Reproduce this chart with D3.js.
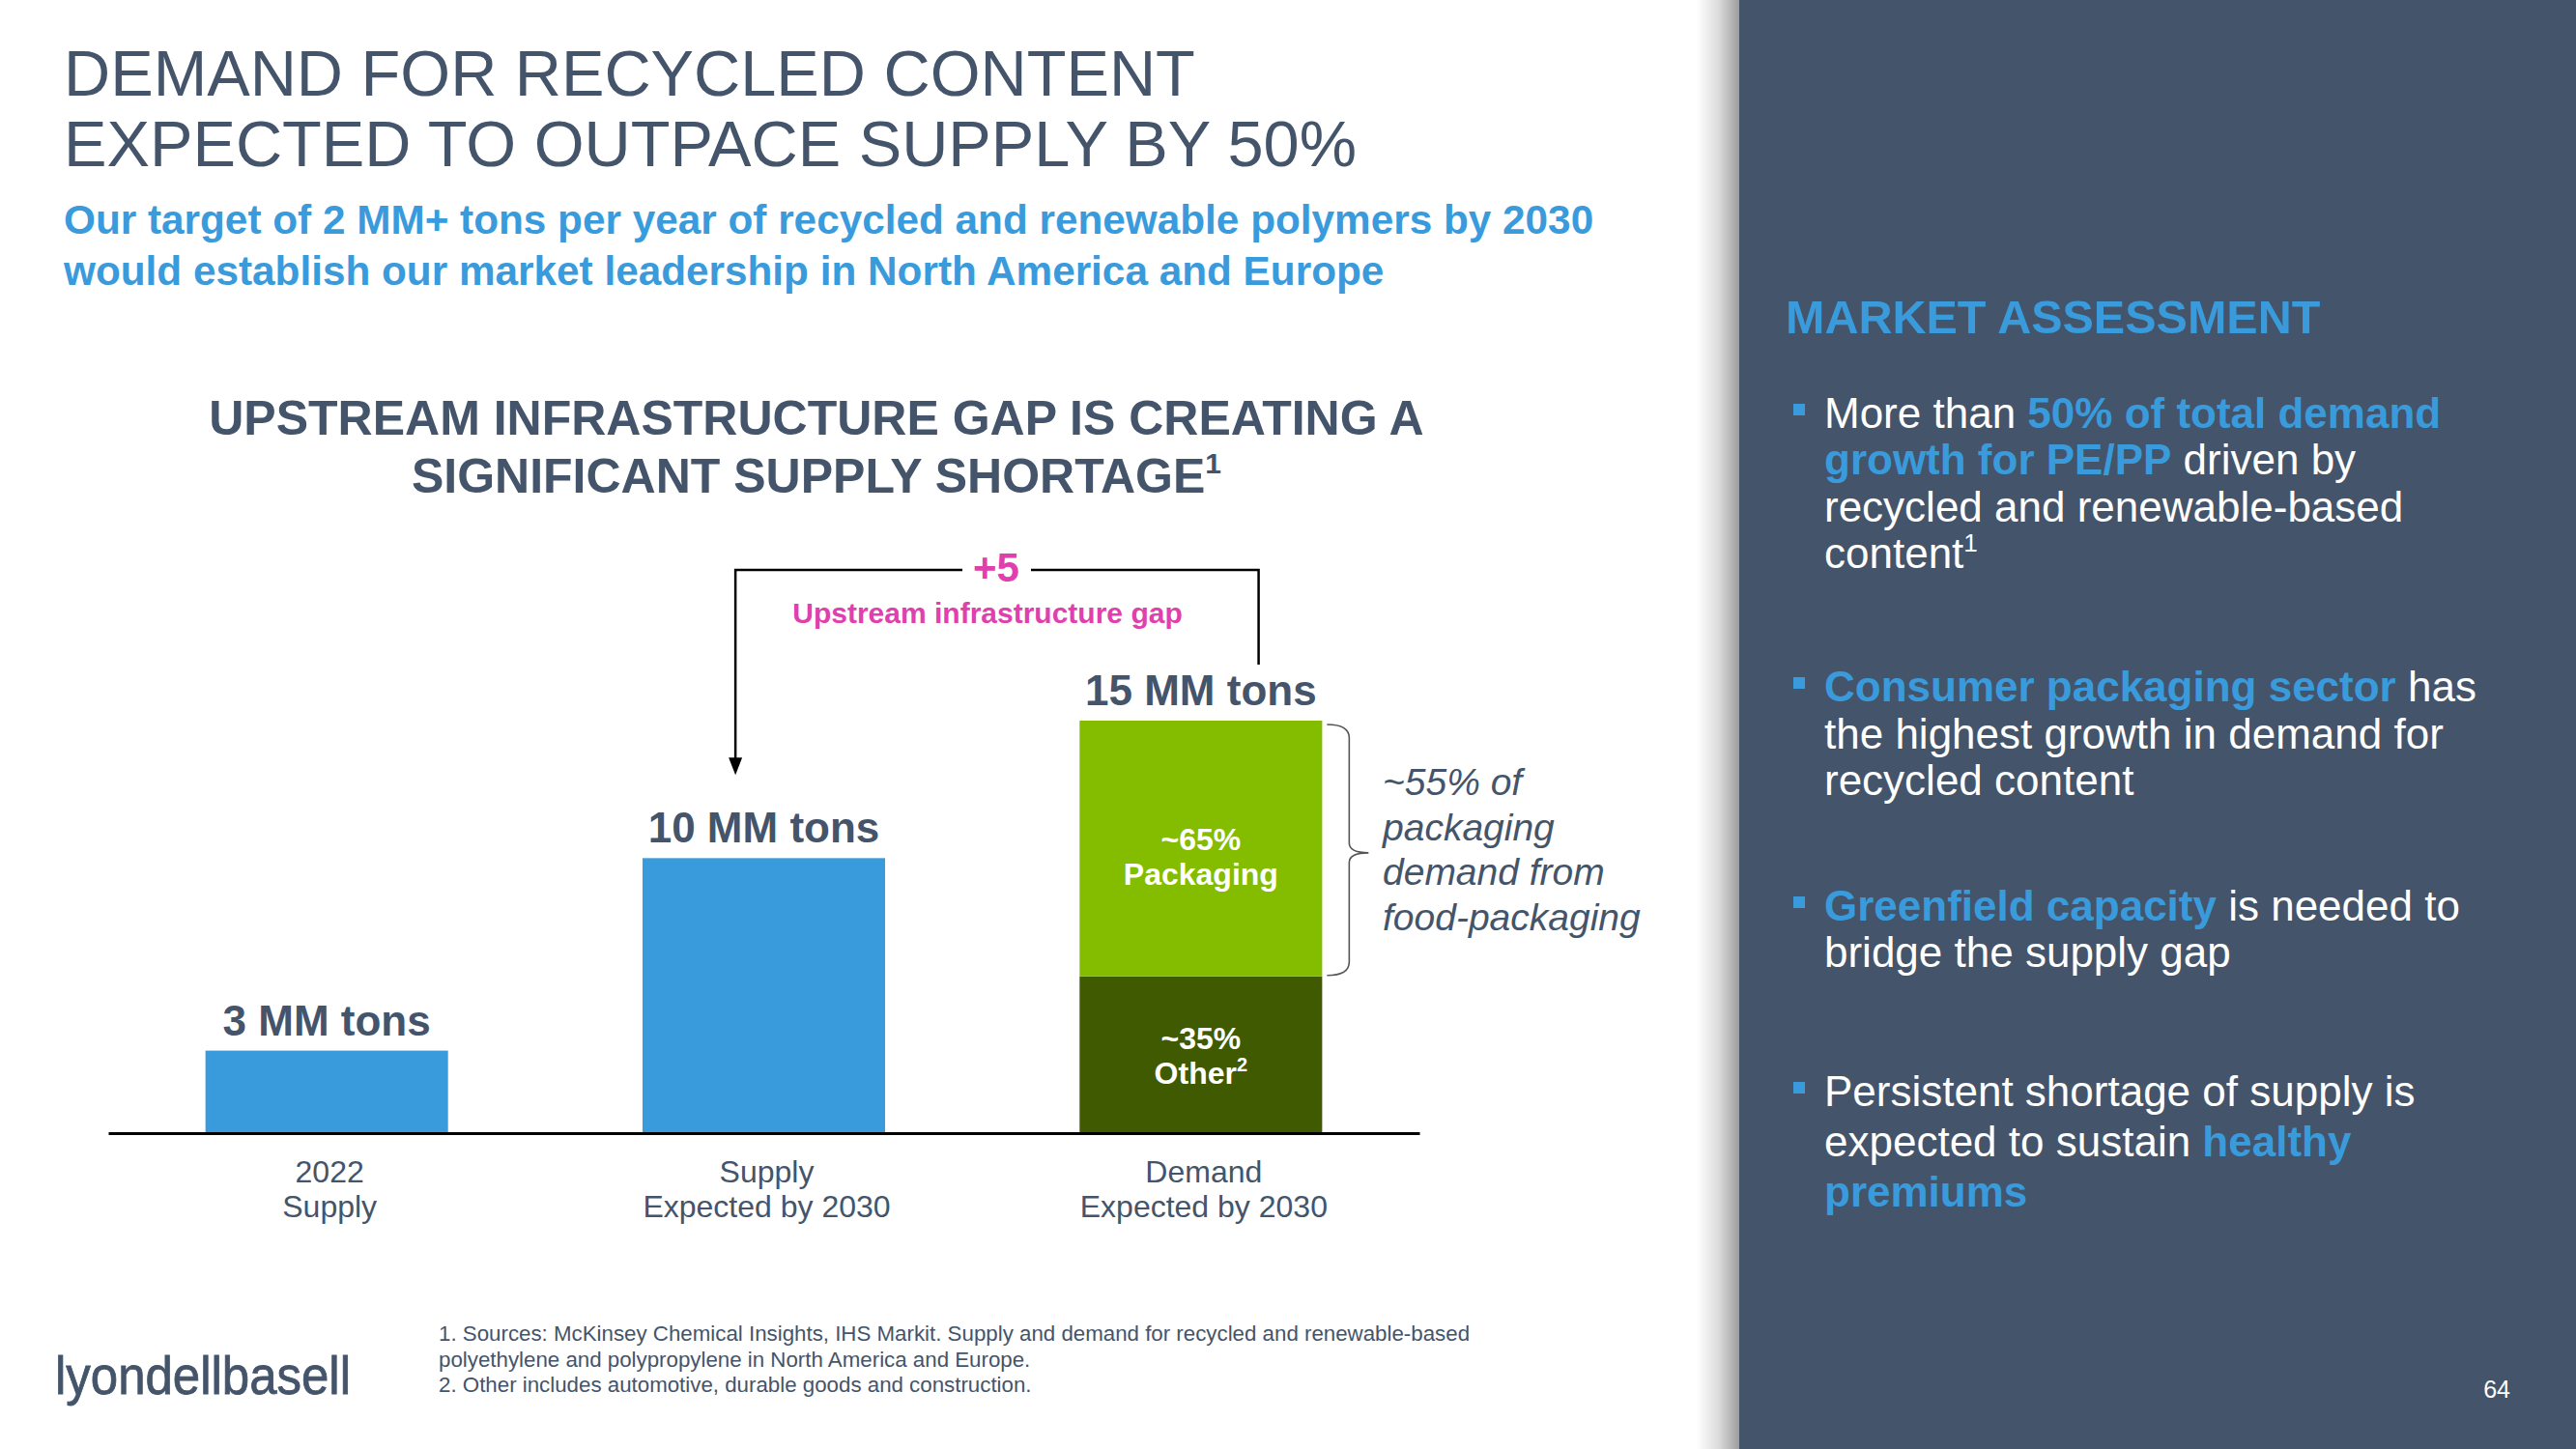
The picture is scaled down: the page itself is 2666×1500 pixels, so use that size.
<!DOCTYPE html>
<html>
<head>
<meta charset="utf-8">
<script src="https://cdn.jsdelivr.net/npm/d3@7/dist/d3.min.js"></script>
<style>
  html, body { margin: 0; padding: 0; background: #ffffff; }
  svg { display: block; }
  text { font-family: "Liberation Sans", Arial, Helvetica, sans-serif; }
</style>
</head>
<body>
<script>
// ---------------- DATA ----------------
const categories = ["2022 Supply", "Supply 2030", "Demand 2030"];
const categoryLines = [["2022", "Supply"], ["Supply", "Expected by 2030"], ["Demand", "Expected by 2030"]];
const barTotals = [3, 10, 15];
const barLabels = ["3 MM tons", "10 MM tons", "15 MM tons"];
const demandSegmentNames = ["Other", "Packaging"];
const demandSegmentValues = [5.7, 9.3];
const demandSegmentPct = ["~35%", "~65%"];
const gapLabel = "+5";
const gapText = "Upstream infrastructure gap";
const braceText = ["~55% of", "packaging", "demand from", "food-packaging"];

const titleLines = ["DEMAND FOR RECYCLED CONTENT", "EXPECTED TO OUTPACE SUPPLY BY 50%"];
const subtitleLines = ["Our target of 2 MM+ tons per year of recycled and renewable polymers by 2030",
                       "would establish our market leadership in North America and Europe"];
const chartTitleLines = ["UPSTREAM INFRASTRUCTURE GAP IS CREATING A", "SIGNIFICANT SUPPLY SHORTAGE"];
const footnotes = ["1. Sources: McKinsey Chemical Insights, IHS Markit. Supply and demand for recycled and renewable-based",
                   "polyethylene and polypropylene in North America and Europe.",
                   "2. Other includes automotive, durable goods and construction."];
const panelTitle = "MARKET ASSESSMENT";
// segments: [text, style] style 0 = normal white, 1 = bold blue, 2 = superscript
const bullets = [
  [[["More than ", 0], ["50% of total demand", 1]],
   [["growth for PE/PP", 1], [" driven by", 0]],
   [["recycled and renewable-based", 0]],
   [["content", 0], ["1", 2]]],
  [[["Consumer packaging sector", 1], [" has", 0]],
   [["the highest growth in demand for", 0]],
   [["recycled content", 0]]],
  [[["Greenfield capacity", 1], [" is needed to", 0]],
   [["bridge the supply gap", 0]]],
  [[["Persistent shortage of supply is", 0]],
   [["expected to sustain ", 0], ["healthy", 1]],
   [["premiums", 1]]]
];
const bulletBaselines = [[443, 491, 540, 588], [726, 775, 823], [953, 1001], [1145, 1197, 1249]];
const pageNumber = "64";
const logoText = "lyondellbasell";

// ---------------- STYLE ----------------
const W = 2666, H = 1500;
const C_TEXT = "#44546a";
const C_BLUE = "#3a9bdc";
const C_GREEN = "#84bd00";
const C_DKGREEN = "#3f5a00";
const C_PINK = "#e040ad";
const C_PANEL = "#44546a";

const svg = d3.select("body").append("svg").attr("width", W).attr("height", H);

svg.append("rect").attr("width", W).attr("height", H).attr("fill", "#fff");

// right panel shadow + panel
const defs = svg.append("defs");
const grad = defs.append("linearGradient").attr("id", "shadow").attr("x1", "0").attr("x2", "1").attr("y1", "0").attr("y2", "0");
grad.append("stop").attr("offset", "0").attr("stop-color", "#ffffff");
grad.append("stop").attr("offset", "0.5").attr("stop-color", "#dcdcdc");
grad.append("stop").attr("offset", "1").attr("stop-color", "#9a9a9a");
svg.append("rect").attr("x", 1756).attr("y", 0).attr("width", 45).attr("height", H).attr("fill", "url(#shadow)");
svg.append("rect").attr("x", 1800).attr("y", 0).attr("width", W - 1800).attr("height", H).attr("fill", C_PANEL);

// ---------------- HEADINGS ----------------
svg.append("g").selectAll("text").data(titleLines).join("text")
  .attr("x", 66).attr("y", (d, i) => 99 + i * 73)
  .attr("font-size", 66.7).attr("fill", C_TEXT).text(d => d);

svg.append("g").selectAll("text").data(subtitleLines).join("text")
  .attr("x", 66).attr("y", (d, i) => 242 + i * 53)
  .attr("font-size", 42.3).attr("font-weight", "bold").attr("fill", C_BLUE).text(d => d);

const ct = svg.append("g");
ct.append("text").attr("x", 845).attr("y", 450).attr("text-anchor", "middle")
  .attr("font-size", 50).attr("font-weight", "bold").attr("fill", C_TEXT).text(chartTitleLines[0]);
const ct2 = ct.append("text").attr("x", 845).attr("y", 510).attr("text-anchor", "middle")
  .attr("font-size", 50).attr("font-weight", "bold").attr("fill", C_TEXT);
ct2.append("tspan").text(chartTitleLines[1]);
ct2.append("tspan").attr("font-size", 30).attr("dy", -20).text("1");

// ---------------- CHART ----------------
const x = d3.scaleBand().domain(categories).range([112, 1469]).paddingInner(0.445).paddingOuter(0.2225);
const y = d3.scaleLinear().domain([0, 15]).range([1173, 746]);
const bw = x.bandwidth();

// plain supply bars
svg.append("g").selectAll("rect").data(categories.slice(0, 2)).join("rect")
  .attr("x", d => x(d)).attr("width", bw)
  .attr("y", (d, i) => y(barTotals[i])).attr("height", (d, i) => y(0) - y(barTotals[i]))
  .attr("fill", C_BLUE);

// stacked demand bar
const demandCat = categories[2];
const stackRows = [Object.fromEntries(demandSegmentNames.map((n, i) => [n, demandSegmentValues[i]]))];
const stacked = d3.stack().keys(demandSegmentNames)(stackRows);
const segColor = d3.scaleOrdinal().domain(demandSegmentNames).range([C_DKGREEN, C_GREEN]);
svg.append("g").selectAll("rect").data(stacked).join("rect")
  .attr("x", x(demandCat)).attr("width", bw)
  .attr("y", d => y(d[0][1])).attr("height", d => y(d[0][0]) - y(d[0][1]))
  .attr("fill", d => segColor(d.key));

// segment labels
const segLabelG = svg.append("g").attr("fill", "#fff").attr("font-weight", "bold").attr("font-size", 32).attr("text-anchor", "middle");
const segShift = [-4, 4];
stacked.forEach((s, i) => {
  const mid = (y(s[0][0]) + y(s[0][1])) / 2 + segShift[i];
  const cx = x(demandCat) + bw / 2;
  segLabelG.append("text").attr("x", cx).attr("y", mid - 2).text(demandSegmentPct[i]);
  const t = segLabelG.append("text").attr("x", cx).attr("y", mid + 34);
  t.append("tspan").text(demandSegmentNames[i]);
  if (demandSegmentNames[i] === "Other") t.append("tspan").attr("font-size", 20).attr("dy", -13).text("2");
});

// value labels
svg.append("g").selectAll("text").data(categories).join("text")
  .attr("x", d => x(d) + bw / 2).attr("y", (d, i) => y(barTotals[i]) - 16)
  .attr("text-anchor", "middle").attr("font-size", 44).attr("font-weight", "bold").attr("fill", C_TEXT)
  .text((d, i) => barLabels[i]);

// x axis
const axisG = svg.append("g").attr("transform", `translate(0,${y(0)})`)
  .call(d3.axisBottom(x).tickSize(0).tickSizeOuter(0).tickFormat(""));
axisG.select(".domain").attr("stroke", "#000").attr("stroke-width", 3);
axisG.selectAll(".tick text").remove();
axisG.selectAll(".tick").each(function (d, i) {
  const t = d3.select(this).append("text").attr("fill", C_TEXT).attr("font-size", 32)
    .attr("text-anchor", "middle").attr("font-family", "Liberation Sans, Arial, sans-serif");
  categoryLines[i].forEach((ln, j) => t.append("tspan").attr("x", 3).attr("y", 51 + j * 36).text(ln));
});

// gap bracket annotation
const leftX = x(categories[1]) + bw * 0.383;
const rightX = x(categories[2]) + bw * 0.738;
const bracketY = y(barTotals[2]) - 156;
const tipY = y(barTotals[1]) - 86;
const rightEndY = y(barTotals[2]) - 58;
const gapMid = 1031;
const ann = svg.append("g");
ann.append("path")
  .attr("d", `M${leftX},${tipY - 16}V${bracketY}H${gapMid - 35}M${gapMid + 36},${bracketY}H${rightX}V${rightEndY}`)
  .attr("fill", "none").attr("stroke", "#000").attr("stroke-width", 2.5);
ann.append("path")
  .attr("d", `M${leftX - 7},${tipY - 18}L${leftX + 7},${tipY - 18}L${leftX},${tipY}Z`).attr("fill", "#000");
ann.append("text").attr("x", gapMid).attr("y", bracketY + 12).attr("text-anchor", "middle")
  .attr("font-size", 42).attr("font-weight", "bold").attr("fill", C_PINK)
  .text(gapLabel);
ann.append("text").attr("x", 1022).attr("y", 645).attr("text-anchor", "middle")
  .attr("font-size", 30).attr("font-weight", "bold").attr("fill", C_PINK).text(gapText);

// brace for packaging segment
const pk = stacked[1][0];
const bTop = y(pk[1]) + 4, bBot = y(pk[0]) - 1, bMid = (bTop + bBot) / 2 + 3;
const bx0 = x(demandCat) + bw + 5, bx1 = bx0 + 23, bx2 = bx1 + 20;
svg.append("path")
  .attr("d", `M${bx0},${bTop}Q${bx1},${bTop} ${bx1},${bTop + 14}V${bMid - 10}Q${bx1},${bMid} ${bx2},${bMid}` +
             `Q${bx1},${bMid} ${bx1},${bMid + 10}V${bBot - 14}Q${bx1},${bBot} ${bx0},${bBot}`)
  .attr("fill", "none").attr("stroke", "#555").attr("stroke-width", 1.6);
svg.append("g").selectAll("text").data(braceText).join("text")
  .attr("x", 1431).attr("y", (d, i) => 823 + i * 46.5)
  .attr("font-size", 39).attr("font-style", "italic").attr("fill", C_TEXT).text(d => d);

// ---------------- FOOTER ----------------
svg.append("g").selectAll("text").data(footnotes).join("text")
  .attr("x", 454).attr("y", (d, i) => 1388 + i * 26.5)
  .attr("font-size", 22.3).attr("fill", C_TEXT).text(d => d);

svg.append("text").attr("x", 57).attr("y", 1443).attr("font-size", 55)
  .attr("font-family", "DejaVu Sans, sans-serif").attr("fill", C_TEXT)
  .attr("stroke", C_TEXT).attr("stroke-width", 0.8)
  .attr("textLength", 306).attr("lengthAdjust", "spacingAndGlyphs").text(logoText);

// ---------------- RIGHT PANEL ----------------
svg.append("text").attr("x", 1848).attr("y", 345).attr("font-size", 48.5).attr("font-weight", "bold")
  .attr("fill", C_BLUE).text(panelTitle);

const bg = svg.append("g");
bullets.forEach((lines, bi) => {
  const b0 = bulletBaselines[bi][0];
  bg.append("rect").attr("x", 1856).attr("y", b0 - 25).attr("width", 12).attr("height", 12).attr("fill", C_BLUE);
  lines.forEach((segs, li) => {
    const t = bg.append("text").attr("x", 1888).attr("y", bulletBaselines[bi][li]).attr("font-size", 44);
    segs.forEach(([txt, st]) => {
      const sp = t.append("tspan").text(txt).attr("xml:space", "preserve");
      if (st === 0) sp.attr("fill", "#fff");
      else if (st === 1) sp.attr("fill", C_BLUE).attr("font-weight", "bold");
      else sp.attr("fill", "#fff").attr("font-size", 26).attr("dy", -17);
    });
  });
});

svg.append("text").attr("x", 2598).attr("y", 1447).attr("text-anchor", "end")
  .attr("font-size", 25).attr("fill", "#fff").text(pageNumber);
</script>
</body>
</html>
